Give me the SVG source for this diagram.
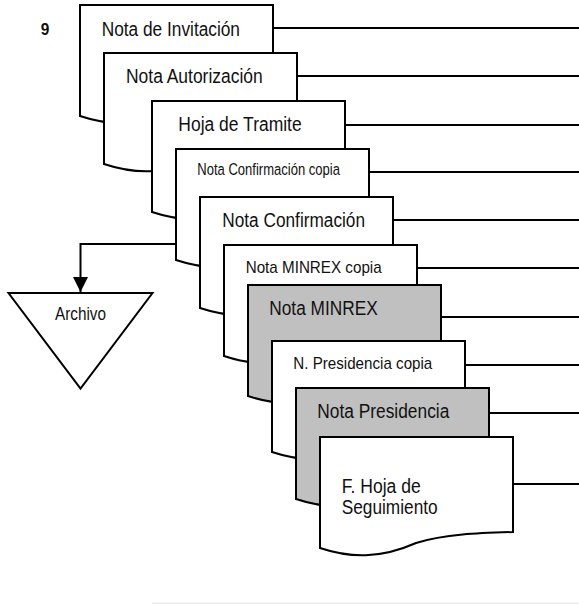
<svg xmlns="http://www.w3.org/2000/svg" width="579" height="604" viewBox="0 0 579 604">
  <defs>
    <!-- document shape: straight top and sides, wavy bottom -->
    <path id="docShape" d="M0,0 H193 V95 C160,96 125,97 96,106 C60,122 30,121 0,111 Z"/>
    <marker id="arrowHead" markerWidth="16" markerHeight="16" refX="15" refY="8" orient="auto" markerUnits="userSpaceOnUse">
      <path d="M0,0.5 L15,8 L0,15.5 Z" fill="#000"/>
    </marker>
  </defs>
  <style>
    .doc { fill: #fff; stroke: #000; stroke-width: 2; stroke-linejoin: miter; }
    .doc.gray { fill: #c0c0c0; }
    .conn { fill: none; stroke: #000; stroke-width: 2; }
    .lbl { font-family: "Liberation Sans Narrow", "Liberation Sans", Arial, sans-serif; fill: #111; }
    .big { font-size: 20px; }
    .sm { font-size: 17px; }
    .xs { font-size: 16.3px; }
    .num { font-family: "Liberation Sans Narrow", "Liberation Sans", Arial, sans-serif; font-size: 17px; font-weight: bold; fill: #111; }
  </style>

  <rect width="579" height="604" fill="#fff"/>

  <text class="num" x="40.7" y="35" textLength="8.6" lengthAdjust="spacingAndGlyphs">9</text>

  <!-- connectors -->
  <g id="connectors">
    <line class="conn" x1="273" y1="28" x2="579" y2="28"/>
    <line class="conn" x1="297" y1="76" x2="579" y2="76"/>
    <line class="conn" x1="345" y1="125" x2="579" y2="125"/>
    <line class="conn" x1="369" y1="172" x2="579" y2="172"/>
    <line class="conn" x1="393" y1="220" x2="579" y2="220"/>
    <line class="conn" x1="417" y1="268" x2="579" y2="268"/>
    <line class="conn" x1="441" y1="317" x2="579" y2="317"/>
    <line class="conn" x1="465" y1="365" x2="579" y2="365"/>
    <line class="conn" x1="489" y1="413" x2="579" y2="413"/>
    <line class="conn" x1="513" y1="484" x2="579" y2="484"/>
    <path class="conn" d="M176,244 H80.5 V292" marker-end="url(#arrowHead)"/>
  </g>

  <g id="archivo">
    <path d="M8.5,293 H152.5 L80.5,388.5 Z" fill="#fff" stroke="#000" stroke-width="2" stroke-linejoin="miter"/>
    <text class="lbl" font-size="17.5" x="55" y="320" textLength="51" lengthAdjust="spacingAndGlyphs">Archivo</text>
  </g>

  <g id="nota-invitacion" transform="translate(80,5)">
    <use href="#docShape" class="doc"/>
    <text class="lbl big" x="21.7" y="30.5" textLength="138.3" lengthAdjust="spacingAndGlyphs">Nota de Invitación</text>
  </g>

  <g id="nota-autorizacion" transform="translate(104,53)">
    <use href="#docShape" class="doc"/>
    <text class="lbl big" x="22" y="29.7" textLength="136.7" lengthAdjust="spacingAndGlyphs">Nota Autorización</text>
  </g>

  <g id="hoja-tramite" transform="translate(152,101)">
    <use href="#docShape" class="doc"/>
    <text class="lbl big" x="26.3" y="30" textLength="123.4" lengthAdjust="spacingAndGlyphs">Hoja de Tramite</text>
  </g>

  <g id="nota-confirmacion-copia" transform="translate(176,149)">
    <use href="#docShape" class="doc"/>
    <text class="lbl xs" x="21.3" y="26" textLength="142.7" lengthAdjust="spacingAndGlyphs">Nota Confirmación copia</text>
  </g>

  <g id="nota-confirmacion" transform="translate(200,197)">
    <use href="#docShape" class="doc"/>
    <text class="lbl big" x="22.3" y="29.7" textLength="142.7" lengthAdjust="spacingAndGlyphs">Nota Confirmación</text>
  </g>

  <g id="nota-minrex-copia" transform="translate(224,245)">
    <use href="#docShape" class="doc"/>
    <text class="lbl sm" x="21.7" y="28.3" textLength="136" lengthAdjust="spacingAndGlyphs">Nota MINREX copia</text>
  </g>

  <g id="nota-minrex" transform="translate(248,285)">
    <use href="#docShape" class="doc gray"/>
    <text class="lbl big" x="21.3" y="30" textLength="108.4" lengthAdjust="spacingAndGlyphs">Nota MINREX</text>
  </g>

  <g id="presidencia-copia" transform="translate(272,341)">
    <use href="#docShape" class="doc"/>
    <text class="lbl sm" x="21.3" y="28" textLength="139" lengthAdjust="spacingAndGlyphs">N. Presidencia copia</text>
  </g>

  <g id="nota-presidencia" transform="translate(296,388)">
    <use href="#docShape" class="doc gray"/>
    <text class="lbl big" x="21.3" y="30.3" textLength="132" lengthAdjust="spacingAndGlyphs">Nota Presidencia</text>
  </g>

  <g id="hoja-seguimiento" transform="translate(320,437)">
    <use href="#docShape" class="doc"/>
    <text class="lbl big" x="21.7" y="55.7" textLength="79" lengthAdjust="spacingAndGlyphs">F. Hoja de</text>
    <text class="lbl big" x="21.7" y="77.3" textLength="96" lengthAdjust="spacingAndGlyphs">Seguimiento</text>
  </g>

  <line x1="152" y1="603.2" x2="579" y2="603.2" stroke="#e2e2e2" stroke-width="1"/>
</svg>
